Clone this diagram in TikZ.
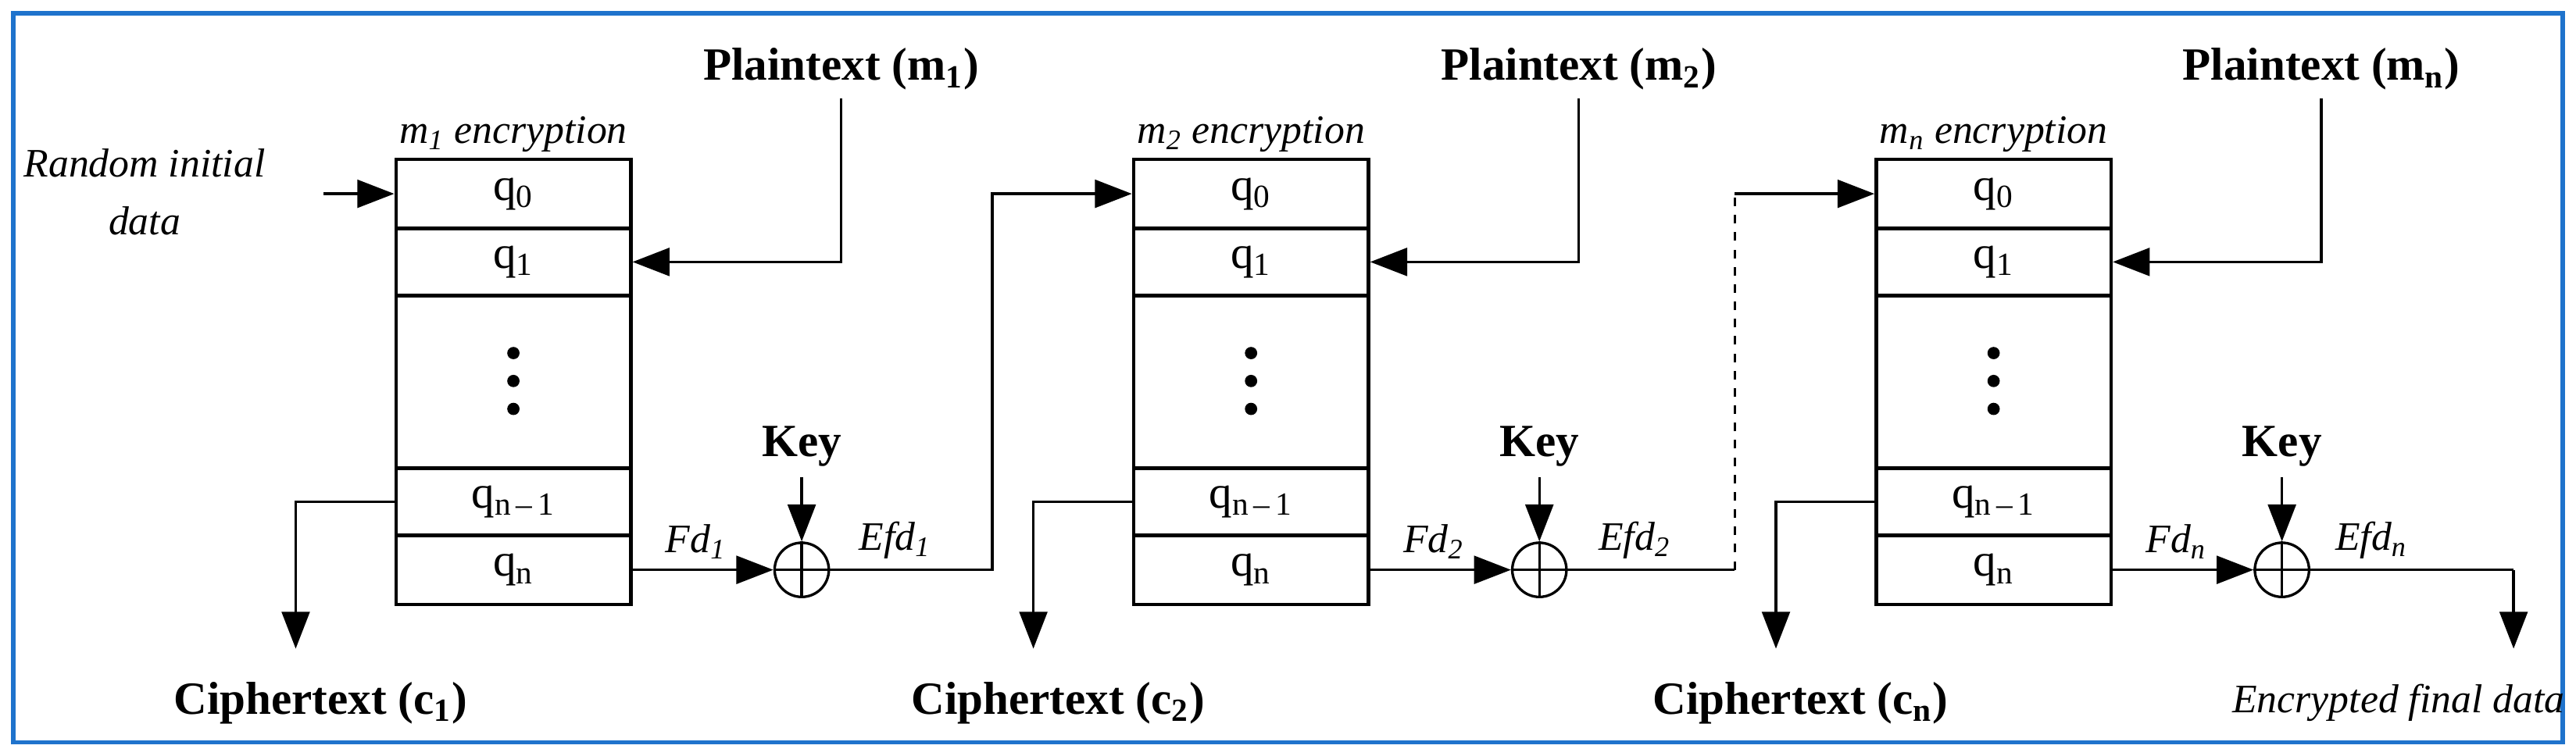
\documentclass[tikz,border=0pt]{standalone}
\usepackage{fontspec}
\setmainfont{Liberation Serif}
\usetikzlibrary{arrows.meta}
\begin{document}
\begin{tikzpicture}[x=0.02cm,y=-0.02cm,
  ln/.style={line width=0.9pt},
  arr/.style={ln,-{Triangle[length=0.45cm,width=0.34cm]}},
  row/.style={draw,line width=1.2pt,minimum width=2.86cm,inner sep=0pt,font=\fontsize{16}{18}\selectfont},
  big/.style={font=\fontsize{16}{19}\selectfont\bfseries},
  it/.style={font=\fontsize{14}{17}\selectfont\itshape},
  xo/.style={draw,circle,line width=0.9pt,minimum size=0.66cm,inner sep=0pt}]
\useasboundingbox (0,0) rectangle (1568,460);
\draw[line width=1.5pt,draw={rgb,255:red,31;green,115;blue,204}] (8,8) rectangle (1560,452);
\newcommand\myblock[3]{%
  \node[row,minimum height=0.84cm] (#1q0) at ({#2+71.5},118) {q\textsubscript{0}};
  \node[row,minimum height=0.82cm] (#1q1) at ({#2+71.5},159.5) {q\textsubscript{1}};
  \node[row,minimum height=2.1cm] (#1d) at ({#2+71.5},232.5) {};
  \node[row,minimum height=0.82cm] (#1qm) at ({#2+71.5},305.5) {q\textsubscript{n\,--\,1}};
  \node[row,minimum height=0.84cm] (#1qn) at ({#2+71.5},347) {q\textsubscript{n}};
  \foreach \yy in {215,232,249} \fill ({#2+71.5},\yy) circle (0.075cm);
  \node[it] (#1t) at ({#2+71.5},82) {m\textsubscript{#3} encryption};
  \node[big] (#1p) at ({#2+271},42) {Plaintext (m\textsubscript{#3})};
  \coordinate (#1pa) at ({#2+271},60);
  \draw[arr] (#1pa) |- (#1q1.east);
  \node[xo] (#1x) at ({#2+247},347) {};
  \draw[ln] (#1x.north) -- (#1x.south) (#1x.west) -- (#1x.east);
  \node[big] (#1k) at ({#2+247},272) {Key};
  \draw[arr] (#1k.south) -- (#1x.north);
  \draw[arr] (#1qn.east) -- node[it,above,pos=0.45] {Fd\textsubscript{#3}} (#1x.west);
  \node[big] (#1c) at ({#2-46},428) {Ciphertext (c\textsubscript{#3})};
  \coordinate (#1ca) at ({#2-61},305.5);
  \draw[arr] (#1qm.west) -- (#1ca) -- ({#2-61},395);
}
\myblock{a}{241}{1}
\myblock{b}{690}{2}
\myblock{c}{1142}{n}
\node[it,align=center] (rid) at (88,117) {Random initial\\[3pt]data};
\coordinate (ra) at (197,118);
\draw[arr] (ra) -- (aq0.west);
\coordinate (e1) at (604,347);
\draw[arr] (ax.east) -- node[it,above,pos=0.4] {Efd\textsubscript{1}} (e1) |- (bq0.west);
\coordinate (e2) at (1056,347);
\draw[ln] (bx.east) -- node[it,above,pos=0.4] {Efd\textsubscript{2}} (e2);
\draw[ln,dashed] (e2) -- (1056,118);
\draw[arr] (1056,118) -- (cq0.west);
\coordinate (e3) at (1530,347);
\node[it] (fin) at (1460,428) {Encrypted final data};
\draw[ln] (cx.east) -- node[it,above,pos=0.3] {Efd\textsubscript{n}} (e3);
\draw[arr] (e3) -- (1530,395);
\end{tikzpicture}
\end{document}
